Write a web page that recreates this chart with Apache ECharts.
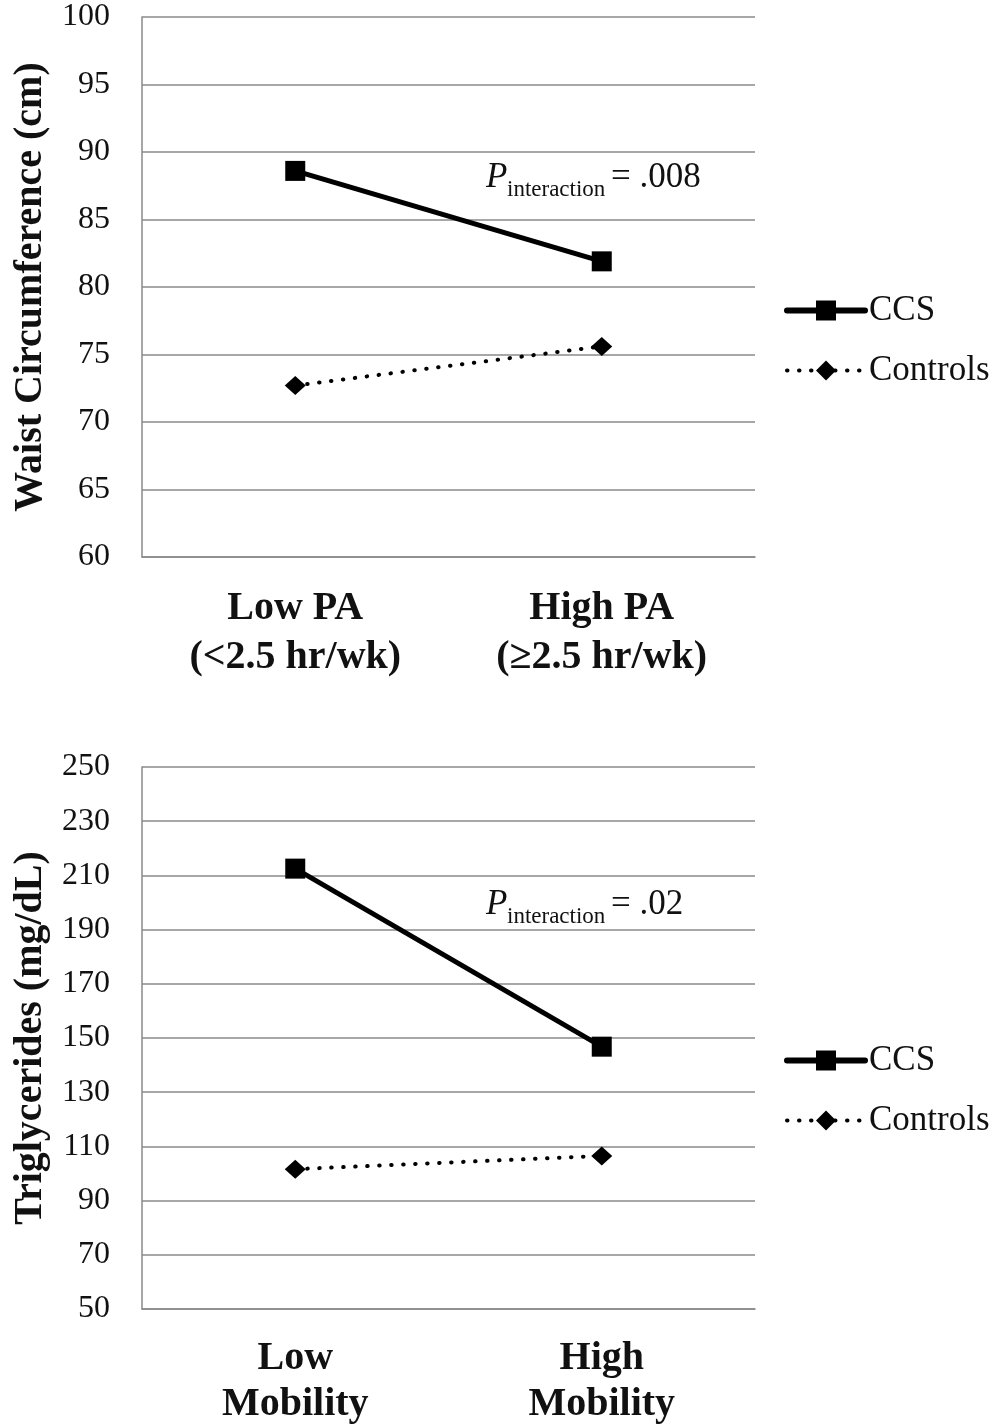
<!DOCTYPE html>
<html>
<head>
<meta charset="utf-8">
<script src="https://cdn.jsdelivr.net/npm/echarts@6/dist/echarts.min.js"></script>
<style>
  html, body { margin: 0; padding: 0; background: #fff; }
  #chart { width: 994px; height: 1426px; }
</style>
</head>
<body>
<div id="chart"></div>
<script>
// top panel: waist circumference by physical activity
const paCategories = ['Low PA\n(<2.5 hr/wk)', 'High PA\n(\u22652.5 hr/wk)']
const waistCCS = [88.6, 81.9]
const waistControls = [72.7, 75.6]

// bottom panel: triglycerides by mobility
const mobilityCategories = ['Low\nMobility', 'High\nMobility']
const trigCCS = [212.5, 146.8]
const trigControls = [101.6, 106.5]

const seriesNames = ['CCS', 'Controls']
const pTop = '.008'
const pBottom = '.02'

const serif = '"Liberation Serif", "DejaVu Serif", serif'
const gridGray = '#8a8a8a'
const ink = '#111'

const chart = echarts.init(document.getElementById('chart'))

function xAxisFor(idx, data, lineHeight, margin) {
  return {
    type: 'category',
    gridIndex: idx,
    data: data,
    boundaryGap: true,
    axisTick: { show: false },
    axisLine: { lineStyle: { color: gridGray, width: 1.5 } },
    axisLabel: {
      color: ink,
      fontFamily: serif,
      fontWeight: 'bold',
      fontSize: 40,
      lineHeight: lineHeight,
      margin: margin
    }
  }
}

function yAxisFor(idx, name, min, max, interval) {
  return {
    type: 'value',
    gridIndex: idx,
    min: min,
    max: max,
    interval: interval,
    name: name,
    nameLocation: 'middle',
    nameGap: 90,
    nameTextStyle: {
      color: ink,
      fontFamily: serif,
      fontWeight: 'bold',
      fontSize: 40
    },
    axisLine: { show: true, lineStyle: { color: gridGray, width: 1.5 } },
    axisTick: { show: false },
    splitLine: { lineStyle: { color: gridGray, width: 1.5 } },
    axisLabel: {
      color: ink,
      fontFamily: serif,
      fontSize: 32,
      margin: 32
    }
  }
}

const dotted = [0.5, 11.5]

function ccsSeries(idx, data) {
  return {
    name: seriesNames[0],
    type: 'line',
    xAxisIndex: idx,
    yAxisIndex: idx,
    data: data,
    symbol: 'rect',
    symbolSize: 20,
    itemStyle: { color: '#000' },
    lineStyle: { color: '#000', width: 5 },
    animation: false
  }
}

function controlsSeries(idx, data) {
  return {
    name: seriesNames[1],
    type: 'line',
    xAxisIndex: idx,
    yAxisIndex: idx,
    data: data,
    symbol: 'diamond',
    symbolSize: [21, 19],
    itemStyle: { color: '#000' },
    lineStyle: { color: '#000', width: 4, type: dotted, cap: 'round' },
    animation: false
  }
}

function legendAt(top) {
  return {
    orient: 'vertical',
    left: 784,
    top: top,
    padding: 0,
    itemWidth: 78,
    itemHeight: 25,
    itemGap: 25,
    data: [
      { name: seriesNames[0], lineStyle: { width: 6, type: 'solid', cap: 'round' } },
      { name: seriesNames[1], lineStyle: { width: 4, type: dotted, cap: 'round' } }
    ],
    textStyle: { color: ink, fontFamily: serif, fontSize: 35, padding: [0, 0, 0, -1] }
  }
}

function pLabel(x, y, value) {
  return {
    type: 'group',
    left: x,
    top: y,
    children: [
      { type: 'text', x: 0, y: 0, style: { text: 'P', font: 'italic 35px ' + serif, fill: ink } },
      { type: 'text', x: 21, y: 18, style: { text: 'interaction', font: '23px ' + serif, fill: ink } },
      { type: 'text', x: 125, y: 0, style: { text: '= ' + value, font: '35px ' + serif, fill: ink } }
    ]
  }
}

chart.setOption({
  backgroundColor: '#fff',
  grid: [
    { left: 142, top: 17, width: 613, height: 540, outerBoundsMode: 'none' },
    { left: 142, top: 767, width: 613, height: 542, outerBoundsMode: 'none' }
  ],
  xAxis: [xAxisFor(0, paCategories, 49, 27), xAxisFor(1, mobilityCategories, 46, 27)],
  yAxis: [
    yAxisFor(0, 'Waist Circumference (cm)', 60, 100, 5),
    yAxisFor(1, 'Triglycerides (mg/dL)', 50, 250, 20)
  ],
  legend: [legendAt(293), legendAt(1043)],
  series: [
    ccsSeries(0, waistCCS),
    controlsSeries(0, waistControls),
    ccsSeries(1, trigCCS),
    controlsSeries(1, trigControls)
  ],
  graphic: [pLabel(486, 160, pTop), pLabel(486, 887, pBottom)]
})
</script>
</body>
</html>
